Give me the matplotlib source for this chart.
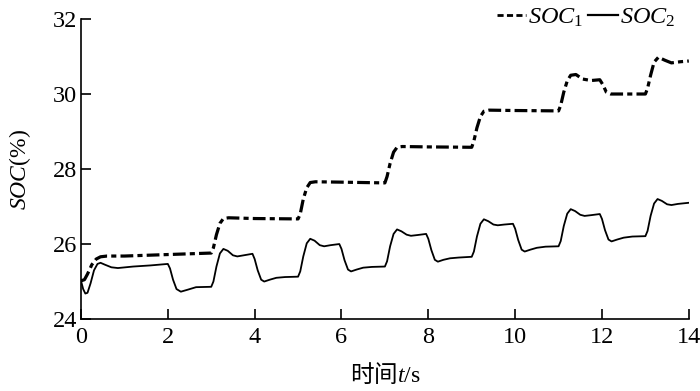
import matplotlib.pyplot as plt
from matplotlib.lines import Line2D

plt.rcParams['font.family'] = ['Liberation Serif', 'Noto Sans CJK SC']
plt.rcParams['mathtext.fontset'] = 'custom'
plt.rcParams['mathtext.rm'] = 'Liberation Serif'
plt.rcParams['mathtext.it'] = 'Liberation Serif:italic'

# SOC1 (dash-dot, thick)
t1 = [0, 0.08, 0.15, 0.25, 0.35, 0.45, 0.6, 1.0, 2.0, 3.0,
      3.05, 3.12, 3.2, 3.28, 3.4, 4.0, 5.0,
      5.05, 5.12, 5.2, 5.28, 5.4, 6.0, 7.0,
      7.05, 7.12, 7.2, 7.28, 7.4, 8.0, 9.0,
      9.05, 9.12, 9.2, 9.28, 9.4, 10.0, 11.0,
      11.05, 11.12, 11.2, 11.28, 11.4, 11.55, 11.75, 11.95,
      12.02, 12.1, 12.2, 12.4, 13.0,
      13.05, 13.12, 13.2, 13.3, 13.45, 13.6, 13.8, 14.0]
soc1 = [25.02, 25.05, 25.2, 25.45, 25.6, 25.66, 25.68, 25.68, 25.72, 25.76,
        25.9, 26.25, 26.55, 26.68, 26.7, 26.68, 26.67,
        26.8, 27.2, 27.5, 27.64, 27.66, 27.65, 27.63,
        27.8, 28.15, 28.45, 28.58, 28.6, 28.59, 28.58,
        28.75, 29.1, 29.4, 29.54, 29.57, 29.56, 29.55,
        29.7, 30.05, 30.35, 30.5, 30.52, 30.4, 30.36, 30.38,
        30.25, 30.05, 30.0, 30.0, 30.0,
        30.15, 30.5, 30.85, 30.98, 30.9, 30.83, 30.86, 30.88]

# SOC2 (solid, thin)
t2 = [0, 0.05, 0.1, 0.15, 0.22, 0.3, 0.38, 0.45, 0.55, 0.7, 0.85, 1.2, 1.6,
      2.0, 2.05, 2.12, 2.2, 2.3, 2.45, 2.65,
      3.0, 3.05, 3.12, 3.2, 3.28, 3.38, 3.5, 3.6, 3.75, 3.95, 4.0, 4.07, 4.15, 4.22, 4.35, 4.5, 4.7,
      5.0, 5.05, 5.12, 5.2, 5.28, 5.38, 5.5, 5.6, 5.75, 5.95, 6.0, 6.07, 6.15, 6.22, 6.35, 6.5, 6.7,
      7.0, 7.05, 7.12, 7.2, 7.28, 7.38, 7.5, 7.6, 7.75, 7.95, 8.0, 8.07, 8.15, 8.22, 8.35, 8.5, 8.7,
      9.0, 9.05, 9.12, 9.2, 9.28, 9.38, 9.5, 9.6, 9.75, 9.95, 10.0, 10.07, 10.15, 10.22, 10.35, 10.5, 10.7,
      11.0, 11.05, 11.12, 11.2, 11.28, 11.38, 11.5, 11.6, 11.75, 11.95, 12.0, 12.07, 12.15, 12.22, 12.35, 12.5, 12.7,
      13.0, 13.05, 13.12, 13.2, 13.28, 13.38, 13.5, 13.6, 13.75, 14.0]
soc2 = [25.02, 24.8, 24.68, 24.7, 24.95, 25.3, 25.47, 25.5, 25.45, 25.38, 25.36, 25.4, 25.43,
        25.47, 25.35, 25.05, 24.8, 24.73, 24.78, 24.85,
        24.86, 25.0, 25.4, 25.75, 25.87, 25.82, 25.7, 25.67, 25.7, 25.74, 25.6, 25.3, 25.05, 25.0, 25.05, 25.1, 25.12,
        25.13, 25.27, 25.67, 26.02, 26.14, 26.09, 25.97, 25.94, 25.97, 26.0, 25.87, 25.57, 25.32, 25.27, 25.32, 25.37, 25.39,
        25.4, 25.54, 25.94, 26.27, 26.39, 26.34, 26.25, 26.22, 26.24, 26.27, 26.14, 25.84, 25.58, 25.53, 25.58, 25.62, 25.64,
        25.66, 25.8, 26.2, 26.54, 26.66, 26.61, 26.52, 26.5, 26.52, 26.54, 26.41, 26.11, 25.85, 25.8, 25.85, 25.9, 25.93,
        25.94, 26.08, 26.48, 26.81, 26.93, 26.88, 26.78, 26.75, 26.77, 26.8, 26.67, 26.37, 26.12, 26.07, 26.12, 26.17, 26.2,
        26.21, 26.35, 26.75, 27.08, 27.2, 27.15, 27.06, 27.04, 27.07, 27.1]

xticks = [0, 2, 4, 6, 8, 10, 12, 14]
yticks = [24, 26, 28, 30, 32]

fig = plt.figure(figsize=(7, 3.91), dpi=100)
ax = fig.add_axes([0.1157, 0.184, 0.8683, 0.7674])

ax.plot(t1, soc1, color='black', lw=2.3, dashes=(4, 1.3, 1.6, 1.3),
        solid_capstyle='butt', dash_capstyle='butt')
ax.plot(t2, soc2, color='black', lw=1.3)

ax.set_xlim(0, 14)
ax.set_ylim(24, 32)
ax.set_xticks(xticks)
ax.set_yticks(yticks)
ax.spines['top'].set_visible(False)
ax.spines['right'].set_visible(False)
for s in ['left', 'bottom']:
    ax.spines[s].set_linewidth(1.2)
ax.tick_params(direction='in', length=7, width=1.2, labelsize=17.5)
ax.tick_params(axis='y', pad=3)
ax.tick_params(axis='x', pad=6)

ax.set_ylabel(r'$\mathit{SOC}$(%)', fontsize=17, labelpad=14)
ax.set_xlabel(r'时间$t/\mathrm{s}$', fontsize=17, family='Noto Sans CJK SC', labelpad=9)

h1 = Line2D([], [], color='black', lw=2.0, dashes=(2.2, 1.2))
h2 = Line2D([], [], color='black', lw=1.6)
fig.legend([h1, h2], [r'$\mathit{SOC}_1$', r'$\mathit{SOC}_2$'], ncol=2,
           loc='center right', bbox_to_anchor=(0.965, 0.955), frameon=False,
           fontsize=17.5, handlelength=1.2, handletextpad=0.1, columnspacing=0.2,
           borderpad=0, borderaxespad=0)

fig.savefig('out.png', dpi=100)
